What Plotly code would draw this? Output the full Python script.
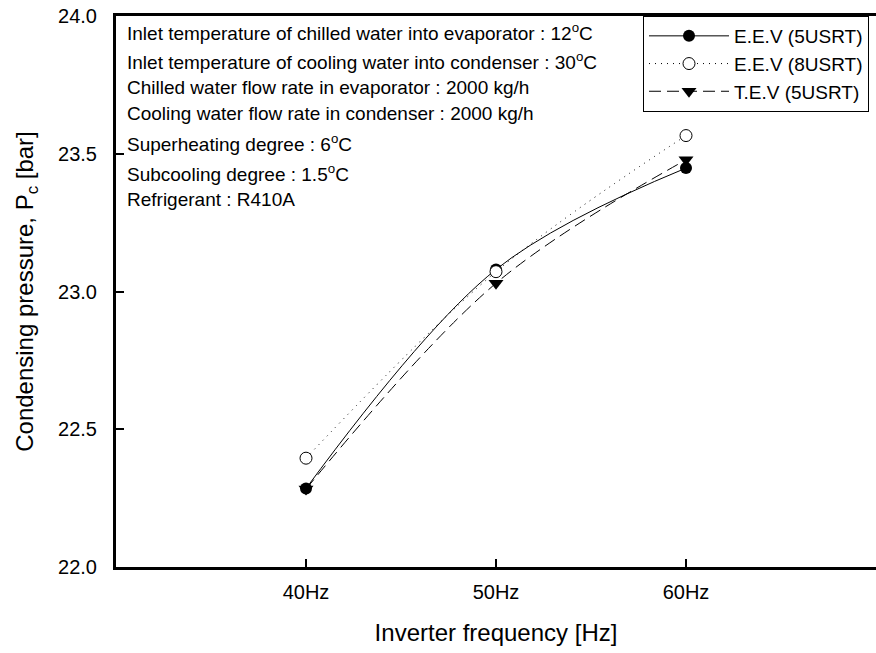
import plotly.graph_objects as go

freq = [40, 50, 60]
freq_labels = ["40Hz", "50Hz", "60Hz"]
eev_5usrt = [22.285, 23.08, 23.448]
eev_8usrt = [22.395, 23.072, 23.566]
tev_5usrt = [22.283, 23.03, 23.478]

notes = [
    "Inlet temperature of chilled water into evaporator : 12<sup>o</sup>C",
    "Inlet temperature of cooling water into condenser : 30<sup>o</sup>C",
    "Chilled water flow rate in evaporator : 2000 kg/h",
    "Cooling water flow rate in condenser : 2000 kg/h",
    "Superheating degree : 6<sup>o</sup>C",
    "Subcooling degree : 1.5<sup>o</sup>C",
    "Refrigerant : R410A",
]
note_px = [32, 61, 87, 113, 143, 173, 199]

FONT = "Arial, Liberation Sans, sans-serif"
W, H = 876, 653
L, R, T, B = 116, 0, 16, 86

fig = go.Figure()
fig.add_trace(go.Scatter(
    x=freq, y=eev_5usrt, name="E.E.V (5USRT)", mode="lines+markers",
    line=dict(color="black", width=1, dash="solid", shape="spline"),
    marker=dict(symbol="circle", size=12, color="black"),
))
fig.add_trace(go.Scatter(
    x=freq, y=eev_8usrt, name="E.E.V (8USRT)", mode="lines+markers",
    line=dict(color="black", width=1, dash="1px,5px", shape="spline"),
    marker=dict(symbol="circle", size=12, color="white", line=dict(width=1, color="black")),
))
fig.add_trace(go.Scatter(
    x=freq, y=tev_5usrt, name="T.E.V (5USRT)", mode="lines+markers",
    line=dict(color="black", width=1, dash="12px,6px", shape="spline"),
    marker=dict(symbol="triangle-down", size=13, color="black"),
))

ph = H - T - B
for txt, py in zip(notes, note_px):
    fig.add_annotation(
        x=(125 - L) / (W - L - R), y=1 - (py - T) / ph,
        xref="paper", yref="paper", xanchor="left", yanchor="middle",
        text=txt, showarrow=False, font=dict(family=FONT, size=19, color="black"),
    )

fig.update_layout(
    width=W, height=H,
    margin=dict(l=L, r=R, t=T, b=B),
    paper_bgcolor="white", plot_bgcolor="white",
    font=dict(family=FONT, color="black"),
    showlegend=True,
    legend=dict(
        x=(643 - L) / (W - L - R), y=1, xanchor="left", yanchor="top",
        bordercolor="black", borderwidth=1, bgcolor="white",
        font=dict(family=FONT, size=19, color="black"),
        traceorder="normal", itemwidth=80, tracegroupgap=0,
    ),
    xaxis=dict(
        range=[30, 70], tickvals=freq, ticktext=freq_labels,
        showgrid=False, zeroline=False,
        showline=True, linecolor="black", linewidth=3, mirror=True,
        ticks="inside", ticklen=8, tickwidth=2, tickcolor="black",
        tickfont=dict(family=FONT, size=20), ticklabelstandoff=5,
        title=dict(text="Inverter frequency [Hz]", font=dict(family=FONT, size=24), standoff=23),
    ),
    yaxis=dict(
        range=[22, 24], dtick=0.5, tick0=22, tickformat=".1f",
        showgrid=False, zeroline=False,
        showline=True, linecolor="black", linewidth=3, mirror=False,
        ticks="inside", ticklen=8, tickwidth=2, tickcolor="black",
        tickfont=dict(family=FONT, size=20), ticklabelstandoff=12,
        title=dict(text="Condensing pressure, P<sub>c</sub> [bar]", font=dict(family=FONT, size=24), standoff=18),
    ),
)

fig.write_html("out.html")
